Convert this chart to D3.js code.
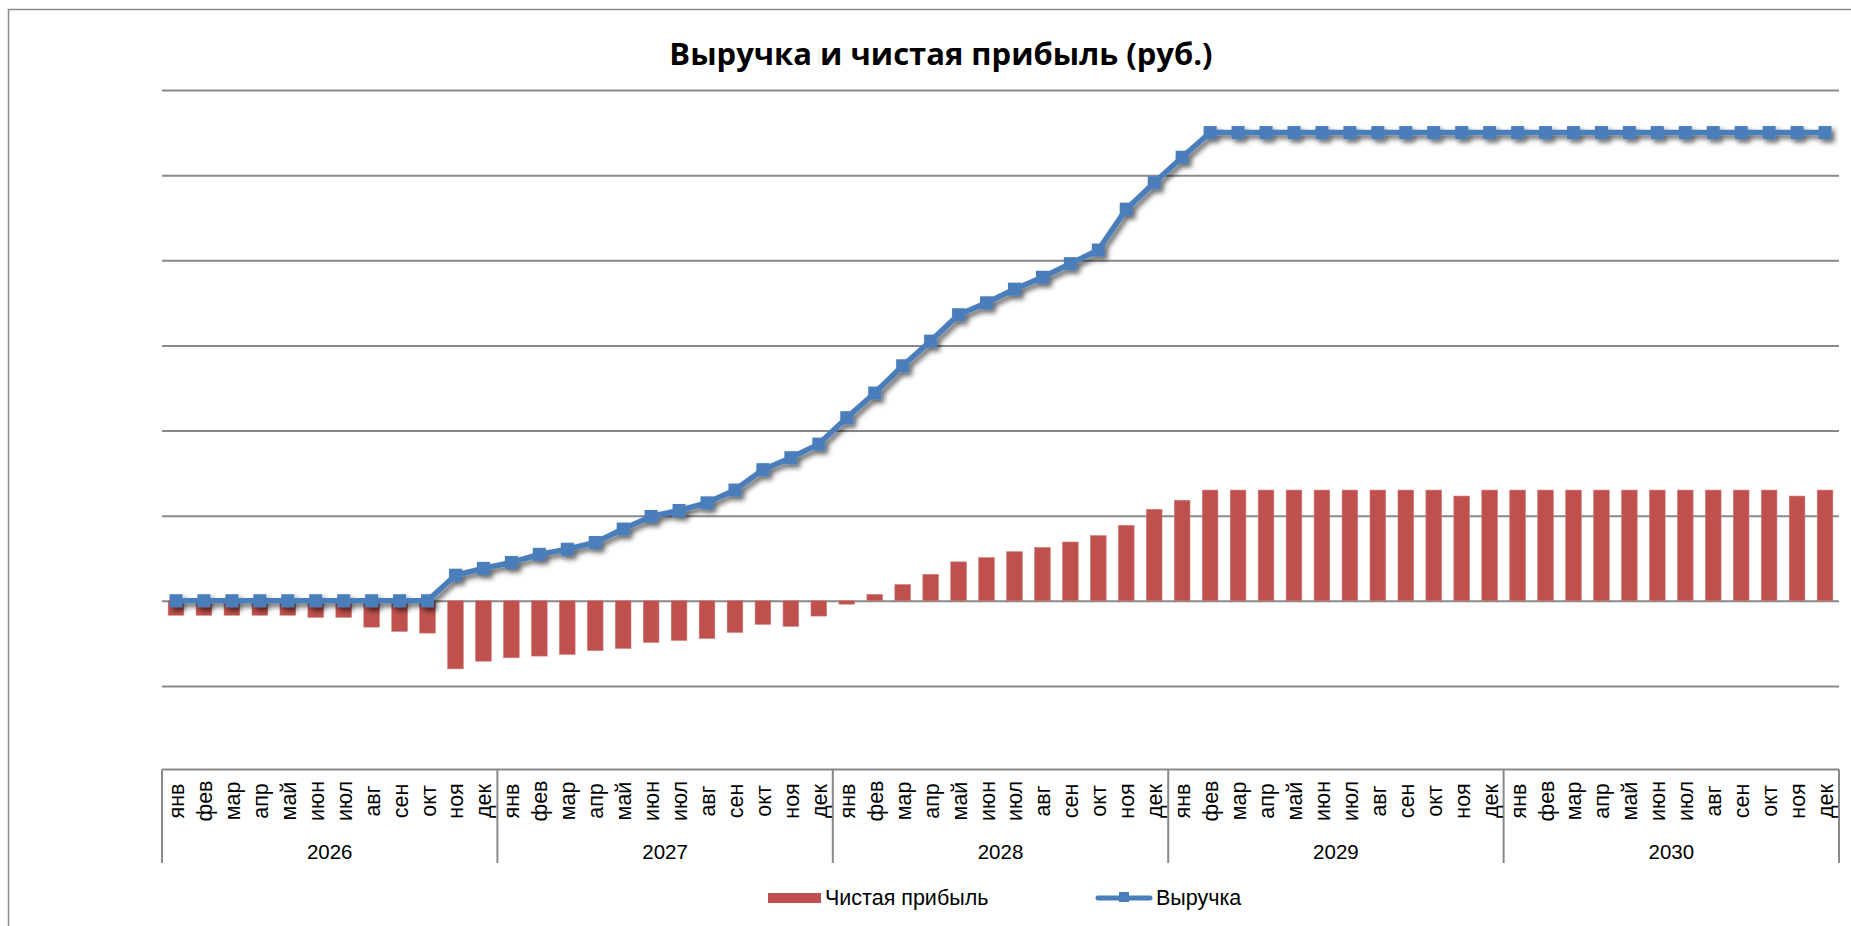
<!DOCTYPE html>
<html>
<head>
<meta charset="utf-8">
<script src="https://cdn.jsdelivr.net/npm/d3@7"></script>
<style>
  html, body { margin: 0; padding: 0; background: #fff; }
  svg { display: block; }
</style>
</head>
<body>
<svg id="chart" width="1851" height="926"></svg>
<script>
// ---------------- DATA ----------------
const years = ["2026", "2027", "2028", "2029", "2030"];
const months = ["янв","фев","мар","апр","май","июн","июл","авг","сен","окт","ноя","дек"];

// Выручка (в делениях сетки)
const revenue = [
  0, 0, 0, 0, 0, 0, 0, 0, 0, 0, 0.30, 0.38,
  0.45, 0.545, 0.605, 0.684, 0.842, 0.99, 1.06, 1.15, 1.30, 1.54, 1.68, 1.84,
  2.15, 2.44, 2.76, 3.05, 3.36, 3.50, 3.66, 3.80, 3.96, 4.12, 4.60, 4.91,
  5.21, 5.5, 5.5, 5.5, 5.5, 5.5, 5.5, 5.5, 5.5, 5.5, 5.5, 5.5,
  5.5, 5.5, 5.5, 5.5, 5.5, 5.5, 5.5, 5.5, 5.5, 5.5, 5.5, 5.5
];

// Чистая прибыль (в делениях сетки)
const profit = [
  -0.17, -0.17, -0.17, -0.17, -0.17, -0.195, -0.195, -0.31, -0.36, -0.38, -0.80, -0.71,
  -0.67, -0.65, -0.63, -0.585, -0.56, -0.49, -0.466, -0.443, -0.372, -0.277, -0.30, -0.18,
  -0.04, 0.074, 0.19, 0.31, 0.457, 0.506, 0.576, 0.626, 0.69, 0.765, 0.885, 1.074,
  1.18, 1.30, 1.30, 1.30, 1.30, 1.30, 1.30, 1.30, 1.30, 1.30, 1.23, 1.30,
  1.30, 1.30, 1.30, 1.30, 1.30, 1.30, 1.30, 1.30, 1.30, 1.30, 1.23, 1.30
];

const gridTicks = [-1, 0, 1, 2, 3, 4, 5, 6];
const yDomain = [-2, 6];

const titleText = "Выручка и чистая прибыль (руб.)";
const legendProfit = "Чистая прибыль";
const legendRevenue = "Выручка";

// ---------------- LAYOUT ----------------
const plot = { left: 162, right: 1839, top: 90, bottom: 771 };
const barColor = "#C0504D";
const lineColor = "#4A7EBB";
const gridColor = "#898989";
const labelFont = "'Liberation Sans', Arial, sans-serif";

const cats = [];
years.forEach(y => months.forEach(m => cats.push(y + "-" + m)));

const svg = d3.select("#chart");

svg.append("rect").attr("width", 1851).attr("height", 926).attr("fill", "#fff");

// outer chart border
svg.append("rect")
  .attr("x", 8.5).attr("y", 9.5).attr("width", 1900).attr("height", 1000)
  .attr("fill", "none").attr("stroke", "#8a8a8a").attr("stroke-width", 1.5);

// shadow filter for line
const defs = svg.append("defs");
const f = defs.append("filter").attr("id", "shadow")
  .attr("x", "-5%").attr("y", "-5%").attr("width", "110%").attr("height", "120%");
f.append("feDropShadow").attr("dx", 3).attr("dy", 3.5).attr("stdDeviation", 2.6)
  .attr("flood-color", "#000").attr("flood-opacity", 0.6);

const x = d3.scaleBand().domain(cats).range([plot.left, plot.right]).padding(0);
const xYear = d3.scaleBand().domain(years).range([plot.left, plot.right]).padding(0);
const y = d3.scaleLinear().domain(yDomain).range([plot.bottom, plot.top]);

// gridlines
const gridAxis = d3.axisLeft(y).tickValues(gridTicks)
  .tickSize(-(plot.right - plot.left)).tickFormat("");
const gG = svg.append("g").attr("transform", `translate(${plot.left},0)`).call(gridAxis);
gG.select(".domain").remove();
gG.selectAll(".tick line").attr("stroke", gridColor).attr("stroke-width", 2);

// bars
const barW = x.bandwidth() * 0.56;
svg.append("g").selectAll("rect").data(profit).join("rect")
  .attr("x", (d, i) => x(cats[i]) + (x.bandwidth() - barW) / 2)
  .attr("width", barW)
  .attr("y", d => Math.min(y(d), y(0)))
  .attr("height", d => Math.abs(y(d) - y(0)))
  .attr("fill", barColor)
  .attr("stroke", "#d07a78").attr("stroke-width", 0.6);

// line + markers
const line = d3.line()
  .x((d, i) => x(cats[i]) + x.bandwidth() / 2)
  .y(d => y(d));
const lg = svg.append("g").attr("filter", "url(#shadow)");
lg.append("path").datum(revenue).attr("d", line)
  .attr("fill", "none").attr("stroke", lineColor).attr("stroke-width", 5.5)
  .attr("stroke-linejoin", "round");
const ms = 13;
lg.selectAll("rect").data(revenue).join("rect")
  .attr("x", (d, i) => x(cats[i]) + x.bandwidth() / 2 - ms / 2)
  .attr("y", d => y(d) - ms / 2)
  .attr("width", ms).attr("height", ms)
  .attr("fill", lineColor);

// category axis
const axisTop = 769.5;
const axisBottomY = 863;
svg.append("line")
  .attr("x1", plot.left).attr("x2", plot.right)
  .attr("y1", axisTop).attr("y2", axisTop)
  .attr("stroke", gridColor).attr("stroke-width", 2);

const dividers = years.map(yr => xYear(yr)).concat([plot.right]);
svg.append("g").selectAll("line").data(dividers).join("line")
  .attr("x1", d => d).attr("x2", d => d)
  .attr("y1", axisTop).attr("y2", axisBottomY)
  .attr("stroke", gridColor).attr("stroke-width", 2);

// month labels
svg.append("g").selectAll("text").data(cats).join("text")
  .attr("transform", d => `translate(${x(d) + x.bandwidth() / 2 + 1},801) rotate(-90)`)
  .attr("text-anchor", "middle")
  .attr("dominant-baseline", "central")
  .attr("font-family", labelFont)
  .attr("font-size", 21.5)
  .attr("fill", "#000")
  .text(d => d.split("-")[1]);

// year labels
svg.append("g").selectAll("text").data(years).join("text")
  .attr("x", d => xYear(d) + xYear.bandwidth() / 2)
  .attr("y", 859)
  .attr("text-anchor", "middle")
  .attr("font-family", labelFont)
  .attr("font-size", 20.5)
  .attr("fill", "#000")
  .text(d => d);

// title
svg.append("text")
  .attr("x", 941).attr("y", 65)
  .attr("text-anchor", "middle")
  .attr("font-family", "'Open Sans', 'Noto Sans', sans-serif")
  .attr("font-weight", "bold")
  .attr("font-size", 31)
  .attr("fill", "#000")
  .text(titleText);

// legend
const legY = 898;
svg.append("rect").attr("x", 768).attr("y", legY - 5).attr("width", 53).attr("height", 10)
  .attr("fill", barColor);
svg.append("text").attr("x", 825).attr("y", legY)
  .attr("dominant-baseline", "central")
  .attr("font-family", labelFont).attr("font-size", 21.5).attr("fill", "#000")
  .text(legendProfit);

svg.append("line").attr("x1", 1098).attr("x2", 1150).attr("y1", legY).attr("y2", legY)
  .attr("stroke", lineColor).attr("stroke-width", 5).attr("stroke-linecap", "round");
svg.append("rect").attr("x", 1119).attr("y", legY - 6).attr("width", 10).attr("height", 10)
  .attr("fill", lineColor);
svg.append("text").attr("x", 1156).attr("y", legY)
  .attr("dominant-baseline", "central")
  .attr("font-family", labelFont).attr("font-size", 21.5).attr("fill", "#000")
  .text(legendRevenue);
</script>
</body>
</html>
